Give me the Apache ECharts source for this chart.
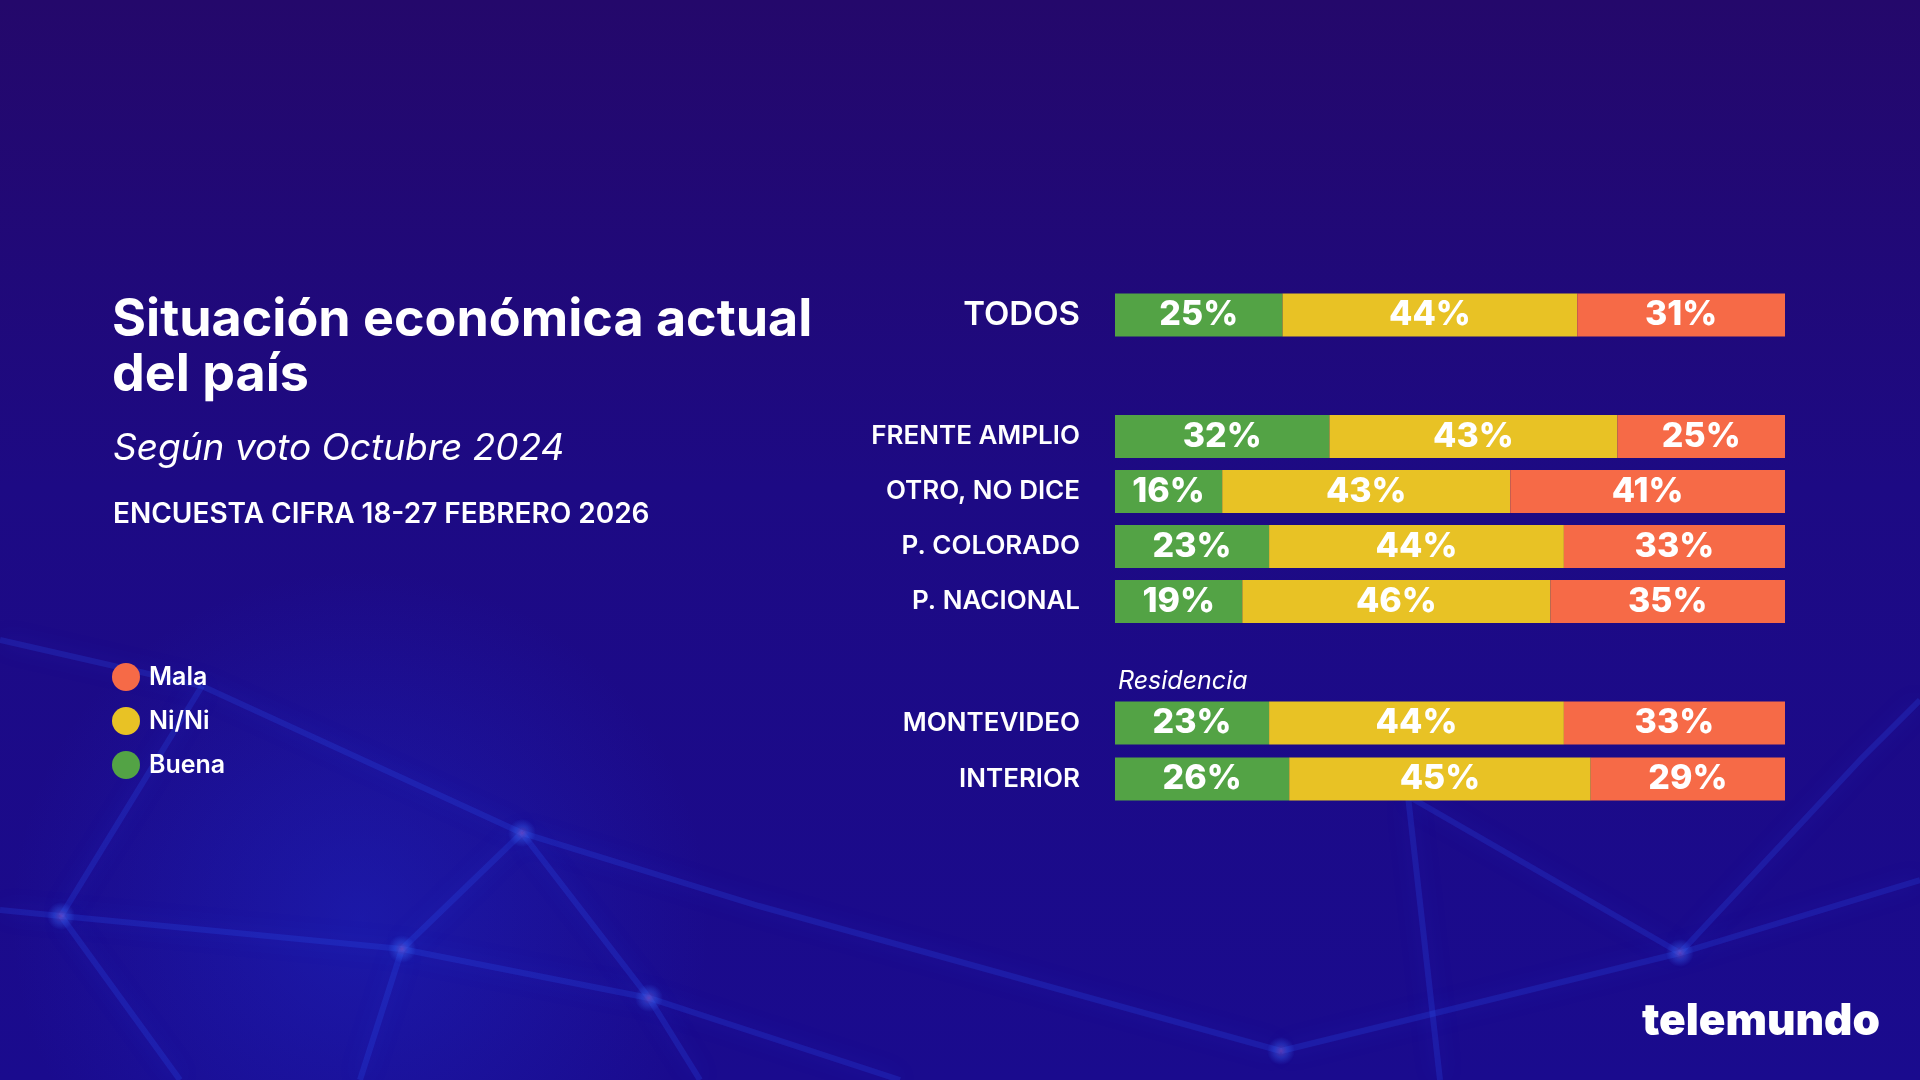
<!DOCTYPE html>
<html style="height: 100%">
   <head>
       <meta charset="utf-8">
   </head>
   <body style="height: 100%; margin: 0; background: #1c0b7a">
       <div id="container" style="height: 100%"></div>
       <script type="text/javascript" src="https://cdn.jsdelivr.net/npm/echarts@6/dist/echarts.min.js"></script>
       <script type="text/javascript">
var dom = document.getElementById("container");
var myChart = echarts.init(dom);

// data (percent)
var todosCats = ['TODOS'];
var todosBuena = [25];
var todosNini = [44];
var todosMala = [31];

var partyCats = ['FRENTE AMPLIO', 'OTRO, NO DICE', 'P. COLORADO', 'P. NACIONAL'];
var partyBuena = [32, 16, 23, 19];
var partyNini = [43, 43, 44, 46];
var partyMala = [25, 41, 33, 35];

var resCats = ['MONTEVIDEO', 'INTERIOR'];
var resBuena = [23, 26];
var resNini = [44, 45];
var resMala = [33, 29];

var legendNames = ['Mala', 'Ni/Ni', 'Buena'];
var colors = { 'Buena': '#53a345', 'Ni/Ni': '#e8c225', 'Mala': '#f66a47' };
var FONT = 'Inter, "Noto Sans", sans-serif';

// background network decoration (not data)
var netLines = [
    [[0, 910], [61, 916], [402, 949], [649, 998], [900, 1080]],
    [[61, 916], [202, 686]],
    [[61, 916], [180, 1080]],
    [[402, 949], [522, 833], [759, 906], [1281, 1051]],
    [[522, 833], [649, 998], [700, 1080]],
    [[402, 949], [360, 1080]],
    [[1281, 1051], [1680, 953], [1920, 880]],
    [[1680, 953], [1861, 759], [1920, 700]],
    [[1408, 796], [1680, 953]],
    [[1408, 796], [1440, 1080]],
    [[0, 640], [202, 686], [522, 833]]
];
var netNodes = [[61, 916], [402, 949], [522, 833], [1281, 1051], [1680, 953], [649, 998]];

function yAxis(idx, cats, size) {
    return {
        type: 'category', gridIndex: idx, data: cats, inverse: true,
        axisLine: { show: false }, axisTick: { show: false },
        axisLabel: { color: '#fff', fontFamily: FONT, fontSize: size, fontWeight: 600, margin: 35 }
    };
}
function xAxis(idx) {
    return { type: 'value', gridIndex: idx, min: 0, max: 100, show: false };
}
function bar(name, idx, data) {
    return {
        type: 'bar', name: name, stack: 'g' + idx, xAxisIndex: idx, yAxisIndex: idx,
        data: data, barWidth: 43,
        itemStyle: { color: colors[name] },
        label: {
            show: true, position: 'inside', formatter: '{c}%',
            color: '#fff', fontFamily: FONT, fontSize: 34, fontWeight: 800
        },
        emphasis: { disabled: true }
    };
}

var graphics = [
    {
        type: 'rect', silent: true, z: -10,
        shape: { x: -200, y: 500, width: 1400, height: 700 },
        style: {
            fill: {
                type: 'radial', x: 0.4, y: 0.6, r: 0.5,
                colorStops: [{ offset: 0, color: 'rgba(30,50,220,0.35)' }, { offset: 1, color: 'rgba(30,50,220,0)' }]
            }
        }
    }
];
netLines.forEach(function (pts) {
    graphics.push({
        type: 'polyline', silent: true, z: -9,
        shape: { points: pts },
        style: { stroke: 'rgba(45,90,255,0.2)', lineWidth: 6, fill: null, shadowBlur: 22, shadowColor: 'rgba(40,90,255,0.8)' }
    });
});
netNodes.forEach(function (p) {
    graphics.push({
        type: 'circle', silent: true, z: -8,
        shape: { cx: p[0], cy: p[1], r: 14 },
        style: {
            fill: {
                type: 'radial', x: 0.5, y: 0.5, r: 0.5,
                colorStops: [{ offset: 0, color: 'rgba(150,90,200,0.5)' }, { offset: 0.5, color: 'rgba(60,110,255,0.3)' }, { offset: 1, color: 'rgba(60,110,255,0)' }]
            }
        }
    });
});
graphics.push({
    type: 'text', right: 40, bottom: 36,
    style: { text: 'telemundo', fill: '#fff', font: '900 44px ' + FONT }
});

var option = {
    backgroundColor: {
        type: 'linear', x: 0, y: 0, x2: 0, y2: 1,
        colorStops: [
            { offset: 0, color: '#24086b' },
            { offset: 0.45, color: '#1d0a84' },
            { offset: 1, color: '#1a0b8e' }
        ]
    },
    title: [
        {
            text: 'Situación económica actual\ndel país', left: 112, top: 293, padding: 0,
            textStyle: { color: '#fff', fontFamily: FONT, fontSize: 52, fontWeight: 700, lineHeight: 55 }
        },
        {
            text: 'Según voto Octubre 2024', left: 113, top: 430, padding: 0,
            textStyle: { color: '#fff', fontFamily: FONT, fontSize: 37, fontWeight: 400, fontStyle: 'italic' }
        },
        {
            text: 'ENCUESTA CIFRA 18-27 FEBRERO 2026', left: 113, top: 501, padding: 0,
            textStyle: { color: '#fff', fontFamily: FONT, fontSize: 28, fontWeight: 600 }
        },
        {
            text: 'Residencia', left: 1118, top: 669, padding: 0,
            textStyle: { color: '#fff', fontFamily: FONT, fontSize: 25, fontWeight: 400, fontStyle: 'italic' }
        }
    ],
    legend: {
        data: legendNames, orient: 'vertical', left: 112, top: 663, padding: 0,
        icon: 'circle', itemWidth: 28, itemHeight: 28, itemGap: 16,
        selectedMode: false,
        textStyle: { color: '#fff', fontFamily: FONT, fontSize: 25, fontWeight: 600, padding: [0, 0, 0, 4] }
    },
    graphic: graphics,
    grid: [
        { left: 1115, width: 670, top: 287, height: 56 },
        { left: 1115, width: 670, top: 409, height: 220 },
        { left: 1115, width: 670, top: 695, height: 112 }
    ],
    xAxis: [xAxis(0), xAxis(1), xAxis(2)],
    yAxis: [yAxis(0, todosCats, 33), yAxis(1, partyCats, 26), yAxis(2, resCats, 26)],
    series: [
        bar('Buena', 0, todosBuena), bar('Ni/Ni', 0, todosNini), bar('Mala', 0, todosMala),
        bar('Buena', 1, partyBuena), bar('Ni/Ni', 1, partyNini), bar('Mala', 1, partyMala),
        bar('Buena', 2, resBuena), bar('Ni/Ni', 2, resNini), bar('Mala', 2, resMala)
    ]
};
myChart.setOption(option);
       </script>
   </body>
</html>
